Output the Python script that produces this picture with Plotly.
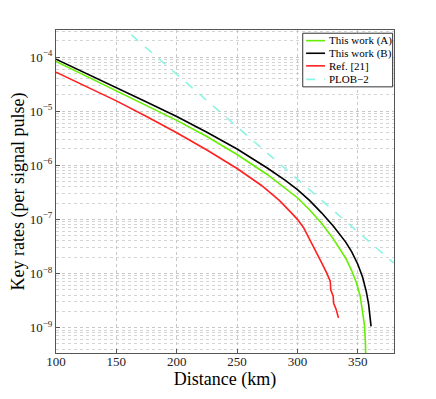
import plotly.graph_objects as go

# distance (km) and key rate per signal pulse
dist_a = [100, 125, 150, 175, 200, 225, 250, 275, 290, 300, 310, 320, 330, 340,
          345, 349, 352, 354, 355.5, 356.3, 356.7, 357]
rate_a = [8.32e-5, 4.47e-5, 2.40e-5, 1.29e-5, 6.76e-6, 3.39e-6, 1.58e-6, 6.76e-7,
          3.8e-7, 2.51e-7, 1.51e-7, 8.5e-8, 4.27e-8, 1.91e-8, 1.12e-8, 6.6e-9,
          3.8e-9, 2.09e-9, 1.12e-9, 5.6e-10, 2.5e-10, 1e-10]

dist_b = [100, 125, 150, 175, 200, 225, 250, 275, 290, 300, 310, 320, 330, 340,
          345, 350, 354, 357, 359, 360.3, 361]
rate_b = [9.12e-5, 5.01e-5, 2.75e-5, 1.48e-5, 7.94e-6, 4.07e-6, 2.0e-6, 8.9e-7,
          5.25e-7, 3.55e-7, 2.24e-7, 1.32e-7, 7.4e-8, 3.8e-8, 2.51e-8, 1.48e-8,
          8.5e-9, 4.68e-9, 2.69e-9, 1.66e-9, 1.05e-9]

dist_ref = [100, 125, 150, 175, 200, 225, 250, 270, 285, 295, 300, 305, 311, 316,
            320, 324, 326.5, 327.2, 327.6, 328.3, 329, 329.6, 330, 331, 332, 333, 334]
rate_ref = [5.25e-5, 2.88e-5, 1.55e-5, 7.94e-6, 3.98e-6, 1.91e-6, 8.7e-7, 4.27e-7,
            2.24e-7, 1.32e-7, 1.0e-7, 7.1e-8, 3.98e-8, 2.4e-8, 1.58e-8, 1.05e-8,
            7.9e-9, 7.2e-9, 5.0e-9, 4.47e-9, 4.17e-9, 3.8e-9, 2.82e-9, 2.51e-9,
            2.19e-9, 1.82e-9, 1.51e-9]

dist_plob = [140, 180, 220, 260, 300, 340, 380]
rate_plob = [7.0e-4, 1.18e-4, 1.97e-5, 3.30e-6, 5.53e-7, 9.27e-8, 1.55e-8]

y_ticks = [1e-9, 1e-8, 1e-7, 1e-6, 1e-5, 1e-4]
y_labels = ["10<sup>−9</sup>", "10<sup>−8</sup>", "10<sup>−7</sup>",
            "10<sup>−6</sup>", "10<sup>−5</sup>", "10<sup>−4</sup>"]

FONT = "Liberation Serif"

series = [
    ("This work (A)", dist_a, rate_a, "#66EE00", "solid"),
    ("This work (B)", dist_b, rate_b, "#000000", "solid"),
    ("Ref. [21]", dist_ref, rate_ref, "#FF2020", "solid"),
    ("PLOB−2", dist_plob, rate_plob, "#8AF5E4", "dash"),
]

fig = go.Figure()
for name, xs, ys, color, dash in series:
    fig.add_trace(
        go.Scatter(
            x=xs,
            y=ys,
            mode="lines",
            name=name,
            line=dict(color=color, width=1.6, dash=dash),
            showlegend=False,
        )
    )

# compact boxed legend in the upper right (plotly's own legend rows are too tall)
leg_x0, leg_x1, leg_y0, leg_y1 = 0.730, 0.996, 0.824, 0.990
row_y = [0.967, 0.928, 0.889, 0.847]
fig.add_shape(type="rect", xref="paper", yref="paper", x0=leg_x0, x1=leg_x1,
              y0=leg_y0, y1=leg_y1, line=dict(color="#333333", width=1),
              fillcolor="white", layer="above")
for (name, _, _, color, dash), ry in zip(series, row_y):
    fig.add_shape(type="line", xref="paper", yref="paper", x0=0.740, x1=0.796,
                  y0=ry, y1=ry, line=dict(color=color, width=1.6, dash=dash),
                  layer="above")
    fig.add_annotation(x=0.801, y=ry, xref="paper", yref="paper", text=name,
                       showarrow=False, xanchor="left", yanchor="middle",
                       font=dict(family=FONT, size=11, color="#000000"))

axis_common = dict(
    showline=True,
    linecolor="#555555",
    linewidth=1,
    mirror=True,
    ticks="inside",
    ticklen=4,
    tickcolor="#555555",
    showgrid=True,
    gridcolor="#c8c8c8",
    griddash="dot",
    gridwidth=1,
    zeroline=False,
    automargin=False,
    tickfont=dict(family=FONT, size=13, color="#222222"),
)

# the page body adds an 8px offset, so the figure is drawn 8px smaller
fig.update_layout(
    width=428,
    height=391,
    plot_bgcolor="white",
    paper_bgcolor="white",
    margin=dict(l=48, r=42, t=22, b=46),
    font=dict(family=FONT, color="#000000"),
    showlegend=False,
    xaxis=dict(
        axis_common,
        range=[100, 380],
        tickvals=[100, 150, 200, 250, 300, 350],
        ticklabelstandoff=-4,
        title=dict(text="Distance (km)", font=dict(family=FONT, size=18), standoff=1),
    ),
    yaxis=dict(
        axis_common,
        type="log",
        range=[-9.47, -3.5],
        tickvals=y_ticks,
        ticktext=y_labels,
        minor=dict(dtick="D1", showgrid=True, gridcolor="#d4d4d4", griddash="dot", ticks=""),
        title=dict(text="Key rates (per signal pulse)", font=dict(family=FONT, size=18), standoff=3),
    ),
)

fig.write_html("out.html")
